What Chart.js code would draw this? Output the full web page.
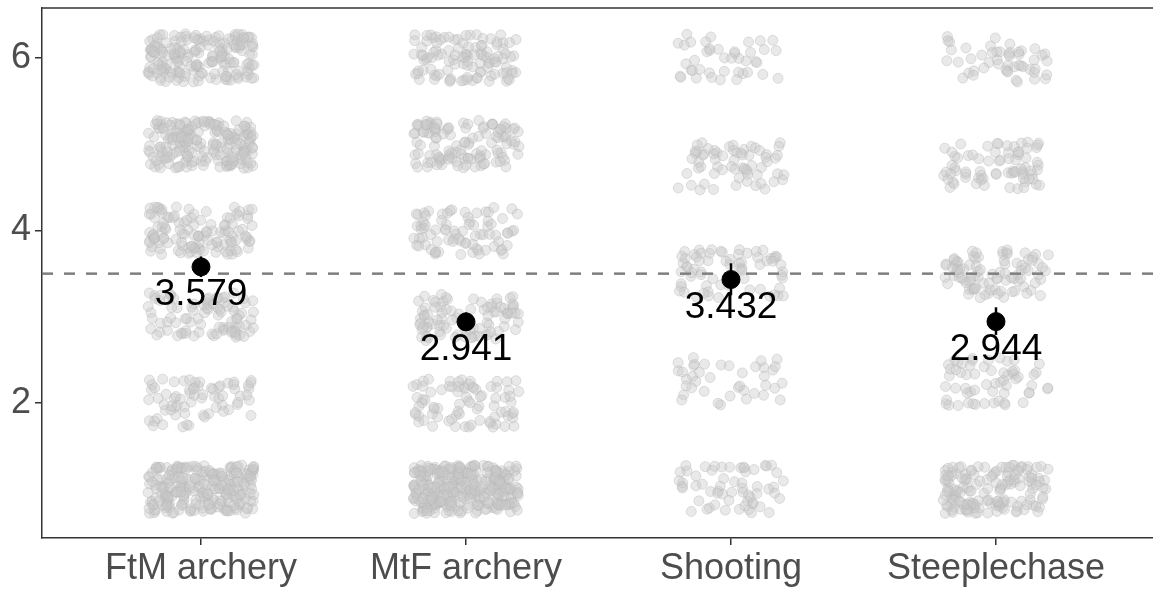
<!DOCTYPE html>
<html>
<head>
<meta charset="utf-8">
<script src="https://cdn.jsdelivr.net/npm/chart.js@4"></script>
<style>
  html, body { margin: 0; padding: 0; background: #fff; }
</style>
</head>
<body>
<canvas id="chart" width="1153" height="590"></canvas>
<script>
// categories on the x axis
const categories = ['FtM archery', 'MtF archery', 'Shooting', 'Steeplechase'];

// answer levels (5-point scales are rescaled to 1..6)
const levels6 = [1, 2, 3, 4, 5, 6];
const levels5 = [1, 2.25, 3.5, 4.75, 6];

// approx number of responses at each level
const countsFtM = [240, 70, 90, 120, 200, 180];
const countsMtF = [300, 80, 90, 80, 120, 110];
const countsShooting = [60, 40, 70, 65, 42];
const countsSteeple = [150, 60, 90, 75, 50];

// means with interval ends
const means = [3.579, 2.941, 3.432, 2.944];
const lowerCI = [3.46, 2.84, 3.25, 2.79];
const upperCI = [3.70, 3.05, 3.62, 3.11];

const yTicks = [2, 4, 6];
const refLine = 3.5;

// fixed jitter offsets (display only, like ggplot's jitter but repeatable)
const jitterW = 0.2, jitterH = 0.28;
function hash01(n) {
    let h = Math.imul(n ^ 0x9e3779b9, 0x85ebca6b);
    h ^= h >>> 13;
    h = Math.imul(h, 0xc2b2ae35);
    h ^= h >>> 16;
    return (h >>> 0) / 4294967296;
}
function buildPoints(catIndex, levels, counts) {
    const pts = [];
    let n = catIndex * 5000;
    levels.forEach((lv, i) => {
        for (let k = 0; k < counts[i]; k++) {
            n += 2;
            const u = hash01(n);
            const v = hash01(n + 1);
            pts.push({ x: catIndex + 1 + (u * 2 - 1) * jitterW, y: lv + (v * 2 - 1) * jitterH });
        }
    });
    return pts;
}

const rawPoints = [].concat(
    buildPoints(0, levels6, countsFtM),
    buildPoints(1, levels6, countsMtF),
    buildPoints(2, levels5, countsShooting),
    buildPoints(3, levels5, countsSteeple)
);

const meanPoints = means.map((m, i) => ({ x: i + 1, y: m }));

const fontFam = '"Liberation Sans", Arial, sans-serif';

// panel top line, error bars and mean labels
const extras = {
    id: 'extras',
    beforeDatasetsDraw(chart) {
        const { ctx, chartArea } = chart;
        ctx.save();
        ctx.strokeStyle = '#333';
        ctx.lineWidth = 1.5;
        ctx.beginPath();
        ctx.moveTo(chartArea.left, chartArea.top);
        ctx.lineTo(chart.width, chartArea.top);
        ctx.stroke();
        ctx.restore();
    },
    afterDatasetsDraw(chart) {
        const { ctx, scales } = chart;
        const xs = scales.x, ys = scales.y;
        ctx.save();
        ctx.strokeStyle = '#000';
        ctx.lineWidth = 2.5;
        means.forEach((m, i) => {
            const px = xs.getPixelForValue(i + 1);
            ctx.beginPath();
            ctx.moveTo(px, ys.getPixelForValue(lowerCI[i]));
            ctx.lineTo(px, ys.getPixelForValue(upperCI[i]));
            ctx.stroke();
        });
        ctx.fillStyle = '#000';
        ctx.font = '37px ' + fontFam;
        ctx.textAlign = 'center';
        ctx.textBaseline = 'middle';
        means.forEach((m, i) => {
            const px = xs.getPixelForValue(i + 1);
            const py = ys.getPixelForValue(m);
            ctx.fillText(m.toFixed(3), px, py + 28);
        });
        ctx.restore();
    }
};

function noPad(s) {
    s.paddingTop = 0; s.paddingBottom = 0; s.paddingLeft = 0; s.paddingRight = 0;
}

new Chart(document.getElementById('chart'), {
    type: 'scatter',
    data: {
        datasets: [
            {
                // mean dots (drawn on top)
                data: meanPoints,
                backgroundColor: '#000',
                borderColor: '#000',
                pointRadius: 9,
                order: 0
            },
            {
                type: 'line',
                data: [{ x: 0.4, y: refLine }, { x: 4.6, y: refLine }],
                borderColor: '#7f7f7f',
                borderWidth: 2.5,
                borderDash: [11, 11],
                pointRadius: 0,
                order: 1
            },
            {
                data: rawPoints,
                backgroundColor: 'rgba(200,200,200,0.4)',
                borderColor: 'rgba(180,180,180,0.4)',
                borderWidth: 1,
                pointRadius: 5,
                order: 2
            }
        ]
    },
    options: {
        responsive: false,
        animation: false,
        layout: { autoPadding: false, padding: { top: 8, right: 0, left: 0, bottom: 0 } },
        plugins: {
            legend: { display: false },
            tooltip: { enabled: false }
        },
        scales: {
            x: {
                type: 'linear',
                min: 0.4,
                max: 4.5925,
                afterBuildTicks: s => { s.ticks = categories.map((c, i) => ({ value: i + 1 })); },
                afterFit: s => { s.height = 52; noPad(s); },
                ticks: {
                    callback: v => categories[v - 1],
                    color: '#4d4d4d',
                    font: { size: 36, family: fontFam },
                    padding: 2,
                    maxRotation: 0,
                    autoSkip: false
                },
                grid: { drawOnChartArea: false, tickLength: 7, tickColor: '#333', lineWidth: 1.5 },
                border: { display: true, color: '#333', width: 1.5 }
            },
            y: {
                min: 0.435,
                max: 6.58,
                afterBuildTicks: s => { s.ticks = yTicks.map(v => ({ value: v })); },
                afterFit: s => { s.width = 42; noPad(s); },
                ticks: {
                    color: '#4d4d4d',
                    font: { size: 36, family: fontFam },
                    padding: 4
                },
                grid: { drawOnChartArea: false, tickLength: 7, tickColor: '#333', lineWidth: 1.5 },
                border: { display: true, color: '#333', width: 1.5 }
            }
        }
    },
    plugins: [extras]
});
</script>
</body>
</html>
